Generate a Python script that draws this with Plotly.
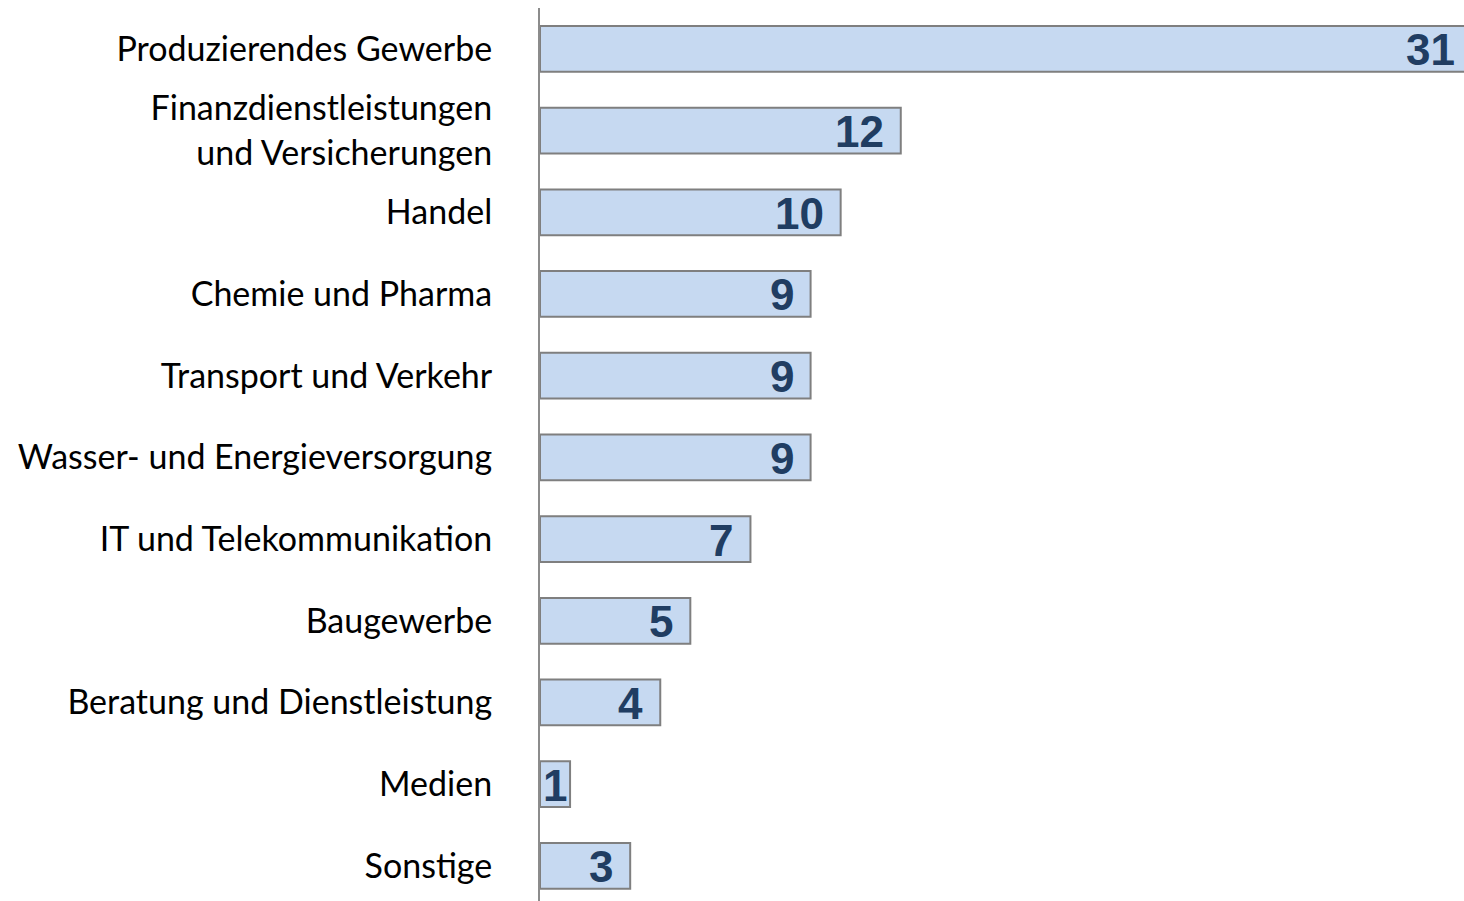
import plotly.graph_objects as go

categories = [
    "Produzierendes Gewerbe",
    "Finanzdienstleistungen<br>und Versicherungen",
    "Handel",
    "Chemie und Pharma",
    "Transport und Verkehr",
    "Wasser- und Energieversorgung",
    "IT und Telekommunikation",
    "Baugewerbe",
    "Beratung und Dienstleistung",
    "Medien",
    "Sonstige",
]
values = [31, 12, 10, 9, 9, 9, 7, 5, 4, 1, 3]
value_labels = [str(v) for v in values]

fig = go.Figure()
fig.add_trace(go.Bar(
    x=values,
    y=categories,
    orientation="h",
    marker=dict(color="#c6d9f1", line=dict(color="#7f7f7f", width=2)),
    width=0.56,
    hoverinfo="skip",
))

for v, c, t in zip(values, categories, value_labels):
    short = v < 2  # bar too short for inside-end placement: start at the axis
    fig.add_annotation(
        x=0 if short else v, y=c, text=t, showarrow=False,
        xanchor="left" if short else "right", yanchor="middle",
        xshift=1 if short else -15, yshift=-1,
        font=dict(family="Arial, Liberation Sans", size=44, color="#203d62",
                  weight="bold"),
    )

fig.update_layout(
    width=1472, height=901,
    margin=dict(l=540, r=0, t=8, b=0, autoexpand=False),
    paper_bgcolor="white", plot_bgcolor="white",
    showlegend=False,
    xaxis=dict(range=[0, 31], showgrid=False, zeroline=False, showline=False,
               showticklabels=False, ticks=""),
    yaxis=dict(type="category", range=[10.43, -0.5], showgrid=False, zeroline=False,
               showline=True, linecolor="#8c8c8c", linewidth=2, ticks="",
               ticklabelstandoff=39, automargin=False,
               tickfont=dict(family="Lato", size=34, color="#000000")),
)

fig.write_html(
    "out.html",
    config={"displayModeBar": False},
    post_script="document.body.style.margin='0';"
                "document.documentElement.style.overflow='hidden';",
)
